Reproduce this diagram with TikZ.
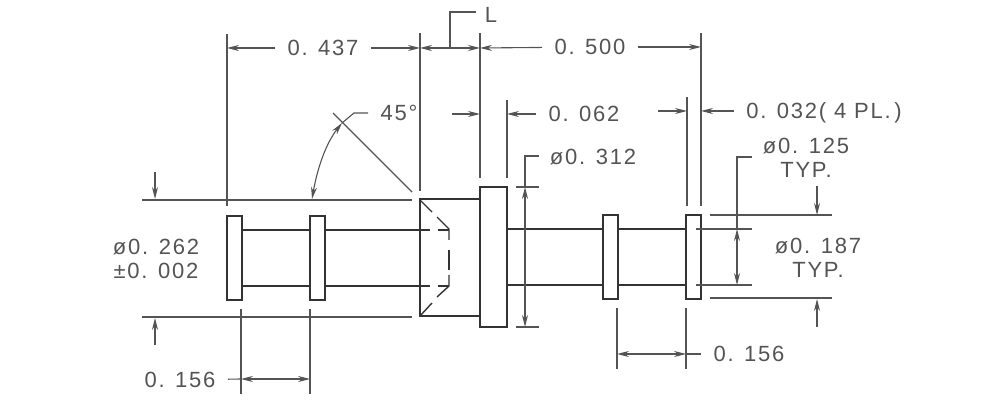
\documentclass[tikz,border=0pt]{standalone}
\usepackage{fontspec}
\setmainfont[LetterSpace=8]{Liberation Sans}
\usetikzlibrary{arrows.meta}
\definecolor{inkdark}{gray}{0.2}
\definecolor{inkthin}{gray}{0.33}
\tikzset{
  objline/.style={line width=0.7pt,color=inkdark},
  thinline/.style={line width=0.55pt,color=inkthin},
  dimarrow/.style={thinline,-{Stealth[length=6pt,width=3pt]}},
  dimboth/.style={thinline,{Stealth[length=6pt,width=3pt]}-{Stealth[length=6pt,width=3pt]}},
  dimtext/.style={text=inkthin,inner sep=6pt,align=center,font=\fontsize{11}{12.2}\selectfont}
}
\begin{document}
\begin{tikzpicture}[x=0.5pt,y=-0.5pt]
      \useasboundingbox (0,0) rectangle (1000,400);
      % labels
      \begin{scope}[every node/.style={dimtext}]
        \draw
          (323,48) node (t437){0. 437}
          (590,47) node (t500){0. 500}
          (491,15) node (tL){L}
          (584,114) node (t062){0. 062}
          (824,113) node (t032){0. 032( 4 PL.\,)}
          (593,157) node (t312){ø0. 312}
          (399,113) node (t45){45°}
          (806,158) node (t125){ø0. 125\\TYP.}
          (818,258) node (t187){ø0. 187\\TYP.}
          (156,259) node (t262){ø0. 262\\±0. 002}
          (180,380) node (t156a){0. 156}
          (749,354) node (t156b){0. 156};
      \end{scope}
      % dimension ends
      \path
        (227,48) coordinate (a437)
        (420,48) coordinate (b437)
        (480,48) coordinate (a500)
        (701,47) coordinate (b500)
        (450,48) coordinate (footL)
        (450,12) coordinate (kneeL)
        (476,12) coordinate (endL)
        (452,114) coordinate (s062a)
        (480,114) coordinate (a062)
        (507,114) coordinate (b062)
        (658,111) coordinate (s032a)
        (687,111) coordinate (a032)
        (701,111) coordinate (b032)
        (312,199) coordinate (a45)
        (342,123) coordinate (b45)
        (354,113) coordinate (knee45)
        (368,113) coordinate (end45)
        (155,172) coordinate (s262a)
        (155,199) coordinate (a262)
        (155,345) coordinate (s262b)
        (155,318) coordinate (b262)
        (525,187) coordinate (a312)
        (525,327) coordinate (b312)
        (525,156) coordinate (knee312)
        (539,156) coordinate (end312)
        (737,229) coordinate (a187)
        (737,285) coordinate (b187)
        (737,157) coordinate (knee187)
        (752,157) coordinate (end187)
        (817,186) coordinate (s125a)
        (817,215) coordinate (a125)
        (817,327) coordinate (s125b)
        (817,299) coordinate (b125)
        (241,379) coordinate (a156)
        (310,379) coordinate (b156)
        (617,354) coordinate (c156)
        (686,354) coordinate (d156);
      % part outline
      \begin{scope}[objline]
        \draw (227,216) rectangle (242,300);
        \draw (310,216) rectangle (325,300);
        \draw (603,215) rectangle (618,299);
        \draw (686,215) rectangle (701,299);
        \draw (480,187) rectangle (507,327);
        \draw (480,199) -- (420,199) -- (420,316) -- (480,316);
        \foreach \xa/\xb/\y in {242/310/230,325/430/230,242/310/286,325/430/286,507/603/229,618/686/229,507/603/285,618/686/285}
          \draw (\xa,\y) -- (\xb,\y);
        % hidden part of the bore
        \draw (420,200) -- (432,212);
        \draw (437,217) -- (449,229) -- (449,240);
        \draw (449,250) -- (449,270);
        \draw (449,275) -- (449,286) -- (437,297);
        \draw (432,303) -- (420,316);
        \draw (438,230) -- (449,230);
        \draw (438,286) -- (449,286);
      \end{scope}
      % extension lines
      \begin{scope}[thinline]
        \foreach \x/\ya/\yb in {227/34/206,420/33/191,480/33/178,507/100/178,687/97/206,701/33/206,241/309/394,310/309/394,617/308/369,686/308/369}
          \draw (\x,\ya) -- (\x,\yb);
        \foreach \y/\xa/\xb in {200/142/412,317/142/412,187/516/539,327/516/539,229/696/752,285/696/752,215/710/832,298/710/832}
          \draw (\xa,\y) -- (\xb,\y);
        \draw (333,113) -- (412,192);
      \end{scope}
      % dimensions
      \draw[dimarrow] (t437) -- (a437);
      \draw[dimarrow] (t437) -- (b437);
      \draw[dimarrow] (t500) -- (a500);
      \draw[dimarrow] (t500) -- (b500);
      \draw[dimboth] (b437) -- (a500);
      \draw[thinline] (footL) -- (kneeL) -- (endL);
      \draw[dimarrow] (s062a) -- (a062);
      \draw[dimarrow] (t062) -- (b062);
      \draw[dimarrow] (s032a) -- (a032);
      \draw[dimarrow] (t032.west |- b032) -- (b032);
      \draw[dimboth] (a45) .. controls (318,165) and (327,142) .. (b45);
      \draw[thinline] (b45) -- (knee45) -- (end45);
      \draw[dimarrow] (s262a) -- (a262);
      \draw[dimarrow] (s262b) -- (b262);
      \draw[dimboth] (a312) -- (b312);
      \draw[thinline] (a312) -- (knee312) -- (end312);
      \draw[dimboth] (a187) -- (b187);
      \draw[thinline] (a187) -- (knee187) -- (end187);
      \draw[dimarrow] (s125a) -- (a125);
      \draw[dimarrow] (s125b) -- (b125);
      \draw[dimboth] (a156) -- (b156);
      \draw[thinline] (t156a) -- (a156);
      \draw[dimboth] (c156) -- (d156);
      \draw[thinline] (d156) -- (t156b);
    \end{tikzpicture}
\end{document}
